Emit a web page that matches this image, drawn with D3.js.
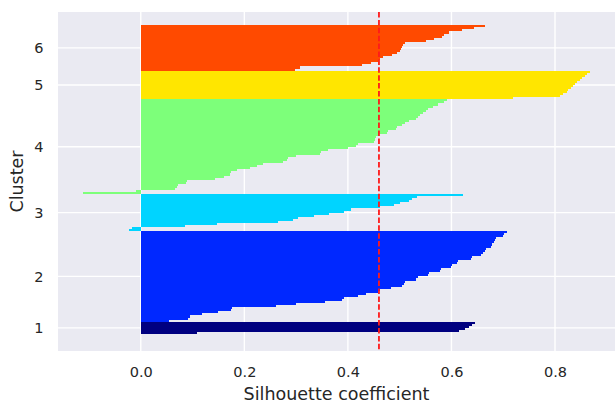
<!doctype html>
<html>
<head>
  <meta charset="utf-8">
  <title>Silhouette plot</title>
  <script src="https://cdn.jsdelivr.net/npm/d3@7/dist/d3.min.js"></script>
  <style>
  body { margin: 0; background: #fff; }
  text { font-family: "DejaVu Sans", sans-serif; fill: #262626; }
  .grid line { stroke: #fff; stroke-width: 1.4px; }
  </style>
</head>
<body>
  <script>
  // silhouette values per cluster, sorted ascending (bottom -> top)
  var clusters = [1, 2, 3, 4, 5, 6];
  var sil1 = [0.108, 0.614, 0.627, 0.633, 0.639, 0.646];
  var sil2 = [0.054, 0.092, 0.095, 0.118, 0.150, 0.174, 0.177, 0.262, 0.300, 0.355,
              0.388, 0.392, 0.420, 0.435, 0.458, 0.462, 0.483, 0.505, 0.508, 0.510,
              0.532, 0.535, 0.555, 0.557, 0.578, 0.580, 0.600, 0.602, 0.610, 0.612,
              0.637, 0.640, 0.657, 0.660, 0.664, 0.666, 0.677, 0.679, 0.682, 0.684,
              0.686, 0.699, 0.701, 0.708];
  var sil3 = [-0.022, -0.017, 0.086, 0.147, 0.265, 0.294, 0.303, 0.335, 0.364, 0.393,
              0.406, 0.462, 0.489, 0.500, 0.518, 0.524, 0.534, 0.623];
  var sil4 = [-0.111, -0.010, 0.067, 0.069, 0.071, 0.088, 0.090, 0.144, 0.160, 0.172,
              0.175, 0.185, 0.210, 0.224, 0.236, 0.275, 0.283, 0.285, 0.300, 0.347,
              0.349, 0.361, 0.400, 0.416, 0.420, 0.450, 0.452, 0.455, 0.460, 0.475,
              0.477, 0.492, 0.495, 0.505, 0.510, 0.518, 0.531, 0.535, 0.540, 0.545,
              0.550, 0.555, 0.565, 0.575, 0.585, 0.592];
  var sil5 = [0.719, 0.809, 0.815, 0.823, 0.826, 0.831, 0.835, 0.839, 0.843, 0.849,
              0.852, 0.858, 0.862, 0.867];
  var sil6 = [0.297, 0.307, 0.428, 0.444, 0.458, 0.462, 0.467, 0.486, 0.495, 0.500,
              0.502, 0.504, 0.506, 0.510, 0.550, 0.566, 0.582, 0.585, 0.595, 0.620,
              0.643, 0.665];
  var silValues = [sil1, sil2, sil3, sil4, sil5, sil6];
  var silhouetteAvg = 0.46;
  var xTicks = [0.0, 0.2, 0.4, 0.6, 0.8];

  // jet colormap at i / n_clusters
  var colors = ["#000080", "#0028ff", "#00d4ff", "#7dff7a", "#ffe600", "#ff4a00"];

  var width = 615, height = 405,
    margin = {top: 12, right: 0, bottom: 54, left: 58},
    w = width - margin.left - margin.right,
    h = height - margin.top - margin.bottom;

  // stack samples, one row per sample
  var rows = [], yTickPos = [], yLower = 0;
  silValues.forEach(function(vals, c) {
    vals.forEach(function(v, k) {
      rows.push({cluster: c, value: v, index: yLower + k});
    });
    yTickPos.push(yLower + (vals.length - 1) / 2);
    yLower += vals.length;
  });
  var n = rows.length;

  var xmin = Math.min(0, d3.min(rows, function(d) { return d.value; })),
    xmax = d3.max(rows, function(d) { return d.value; }),
    xpad = (xmax - xmin) * 0.05;
  var x = d3.scaleLinear().domain([xmin - xpad, xmax + xpad]).range([0, w]);

  var y = d3.scaleLinear()
      .domain([-0.5 - n * 0.055, n - 0.5 + n * 0.043])
      .range([h, 0]);

  var svg = d3.select("body").append("svg")
      .attr("width", width)
      .attr("height", height);

  var g = svg.append("g")
      .attr("transform", "translate(" + margin.left + "," + margin.top + ")");

  g.append("rect")
    .attr("width", w)
    .attr("height", h)
    .attr("fill", "#eaeaf2");

  var grid = g.append("g").attr("class", "grid");
  grid.selectAll(".vx").data(xTicks).enter().append("line")
    .attr("x1", function(d) { return x(d); })
    .attr("x2", function(d) { return x(d); })
    .attr("y1", 0).attr("y2", h);
  grid.selectAll(".hy").data(yTickPos).enter().append("line")
    .attr("y1", function(d) { return y(d); })
    .attr("y2", function(d) { return y(d); })
    .attr("x1", 0).attr("x2", w);

  g.append("g")
    .attr("shape-rendering", "crispEdges")
    .selectAll("rect")
    .data(rows)
    .enter().append("rect")
      .attr("x", function(d) { return x(Math.min(0, d.value)); })
      .attr("width", function(d) { return Math.abs(x(d.value) - x(0)); })
      .attr("y", function(d) { return y(d.index + 0.5); })
      .attr("height", function(d) { return y(d.index - 0.5) - y(d.index + 0.5); })
      .attr("fill", function(d) { return colors[d.cluster]; });

  g.append("line")
    .attr("x1", x(silhouetteAvg))
    .attr("x2", x(silhouetteAvg))
    .attr("y1", 0)
    .attr("y2", h)
    .attr("stroke", "#ff1a1a")
    .attr("stroke-width", 1.8)
    .attr("stroke-dasharray", "5.5,2.4");

  var xAxis = d3.axisBottom(x).tickValues(xTicks).tickSize(0).tickPadding(16)
      .tickFormat(d3.format(".1f"));
  var yAxis = d3.axisLeft(y).tickValues(yTickPos).tickSize(0).tickPadding(14.5)
      .tickFormat(function(d, i) { return clusters[i]; });

  g.append("g")
    .attr("transform", "translate(0," + h + ")")
    .call(xAxis)
    .call(function(s) { s.select(".domain").remove(); })
    .selectAll("text").style("font-size", "14.5px").attr("fill", "#262626");

  g.append("g")
    .call(yAxis)
    .call(function(s) { s.select(".domain").remove(); })
    .selectAll("text").style("font-size", "14.5px").attr("fill", "#262626");

  svg.append("text")
    .attr("x", margin.left + w / 2)
    .attr("y", 400)
    .attr("text-anchor", "middle")
    .style("font-size", "17.5px")
    .text("Silhouette coefficient");

  svg.append("text")
    .attr("transform", "translate(23," + (margin.top + h / 2) + ") rotate(-90)")
    .attr("text-anchor", "middle")
    .style("font-size", "17.5px")
    .text("Cluster");
  </script>
</body>
</html>
